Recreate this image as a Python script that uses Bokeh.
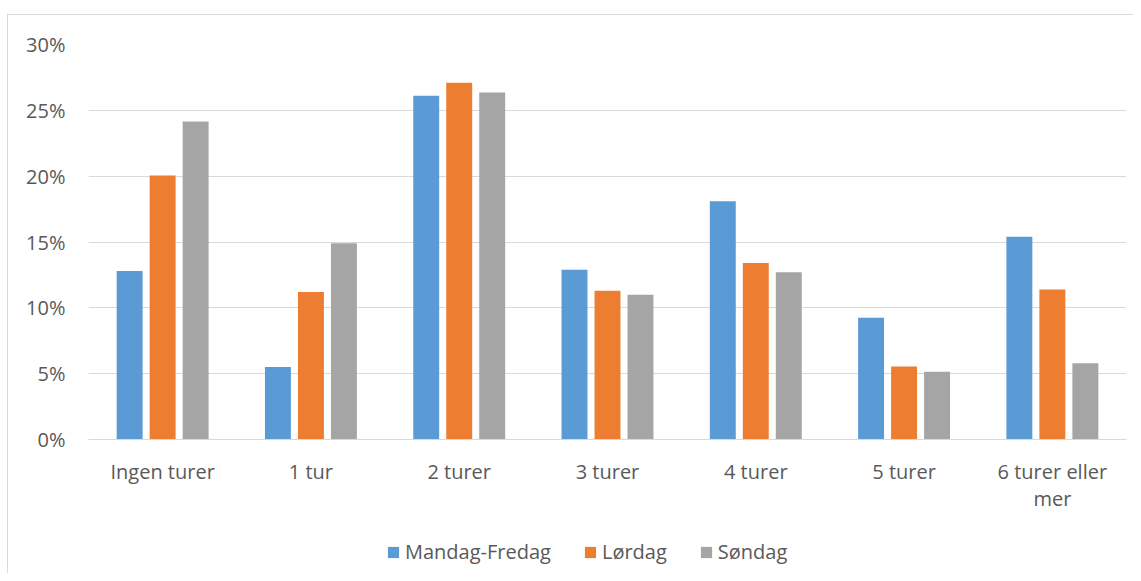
from bokeh.plotting import figure
from bokeh.models import FactorRange, FixedTicker, Legend, LegendItem, Range1d
from bokeh.layouts import column
from bokeh.transform import dodge
from bokeh.embed import file_html
from bokeh.resources import INLINE

categories = ["Ingen turer", "1 tur", "2 turer", "3 turer", "4 turer", "5 turer", "6 turer eller\nmer"]
mandag_fredag = [12.8, 5.5, 26.1, 12.9, 18.1, 9.25, 15.4]
lordag = [20.05, 11.2, 27.1, 11.3, 13.4, 5.55, 11.4]
sondag = [24.15, 14.9, 26.35, 11.0, 12.7, 5.15, 5.8]
series_names = ["Mandag-Fredag", "Lørdag", "Søndag"]
y_ticks = [0, 5, 10, 15, 20, 25, 30]
y_tick_labels = ["0%", "5%", "10%", "15%", "20%", "25%", "30%"]

colors = ["#5B9BD5", "#ED7D31", "#A5A5A5"]
FONT = "Open Sans"
TXT = "#595959"
FS = "20px"
EDGE = "#D9D9D9"

data = dict(cat=categories, mf=mandag_fredag, lo=lordag, so=sondag)

p = figure(x_range=FactorRange(*categories), y_range=(0, 30),
           width=1133, height=520, output_backend="svg", toolbar_location=None,
           min_border_left=88, min_border_right=7, min_border_top=44, min_border_bottom=81)
p.outline_line_color = None
p.border_fill_alpha = 0
p.styles = {
    "background": f"linear-gradient({EDGE},{EDGE}) 7px 14px / 1px 100% no-repeat, "
                  f"linear-gradient({EDGE},{EDGE}) 7px 14px / 100% 1px no-repeat, #FFFFFF",
}

offsets = [-0.2225, 0.0, 0.2225]
keys = ["mf", "lo", "so"]
for k, off, c in zip(keys, offsets, colors):
    p.vbar(x=dodge("cat", off, range=p.x_range), top=k, width=0.175, source=data,
           fill_color=c, line_color=None)

p.xgrid.grid_line_color = None
p.ygrid.grid_line_color = EDGE
p.ygrid.grid_line_width = 1

p.yaxis.ticker = FixedTicker(ticks=y_ticks)
p.yaxis.major_label_overrides = {t: l for t, l in zip(y_ticks, y_tick_labels)}
p.yaxis.axis_line_color = None
p.yaxis.major_tick_line_color = None
p.yaxis.minor_tick_line_color = None
p.yaxis.major_label_standoff = 17
p.yaxis.major_label_text_font = FONT
p.yaxis.major_label_text_font_size = FS
p.yaxis.major_label_text_color = TXT

p.xaxis.axis_line_color = EDGE
p.xaxis.major_tick_line_color = None
p.xaxis.minor_tick_line_color = None
p.xaxis.major_label_standoff = 12
p.xaxis.major_label_text_font = FONT
p.xaxis.major_label_text_font_size = FS
p.xaxis.major_label_text_color = TXT
p.xaxis.major_label_text_line_height = 1.0

# legend strip (its frame is aligned with the main frame by the column layout)
p2 = figure(x_range=Range1d(0, 1), y_range=Range1d(0, 1), width=1133, height=53,
            output_backend="svg", toolbar_location=None,
            min_border_left=0, min_border_right=0, min_border_top=0, min_border_bottom=0)
p2.axis.visible = False
p2.grid.visible = False
p2.outline_line_color = None
p2.border_fill_alpha = 0
p2.background_fill_alpha = 0
p2.styles = {
    "background": f"linear-gradient({EDGE},{EDGE}) 7px 0px / 1px 100% no-repeat, #FFFFFF",
}
legend_renderers = []
for c in colors:
    # off-range placeholder glyph so that the legend swatch is drawn
    legend_renderers.append(p2.vbar(x=[-5], top=[0], width=0.1, fill_color=c, line_color=None))

legend = Legend(items=[LegendItem(label=n, renderers=[r]) for n, r in zip(series_names, legend_renderers)],
                orientation="horizontal", location=(298, 8))
legend.border_line_color = None
legend.background_fill_alpha = 0
legend.padding = 0
legend.margin = 0
legend.spacing = 32
legend.glyph_width = 14
legend.glyph_height = 14
legend.label_standoff = 5
legend.label_text_font = FONT
legend.label_text_font_size = FS
legend.label_text_color = TXT
p2.add_layout(legend, "center")

layout = column(p, p2, spacing=0)
open("out.html", "w").write(file_html(layout, INLINE))
